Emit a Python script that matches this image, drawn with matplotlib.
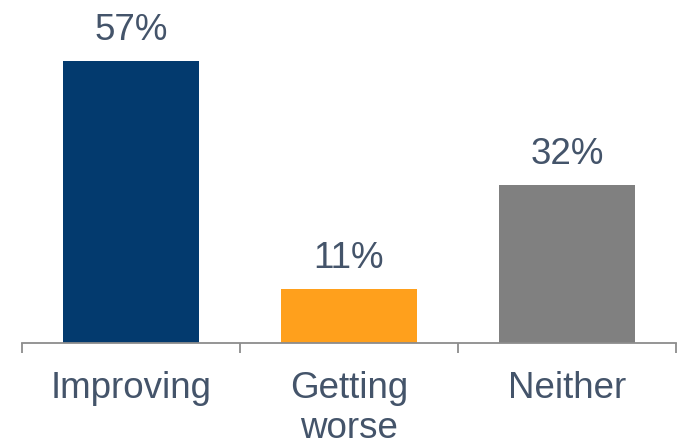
import matplotlib.pyplot as plt

categories = ['Improving', 'Getting\nworse', 'Neither']
values = [57, 11, 32]
colors = ['#033A6E', '#FFA01C', '#808080']
text_color = '#44546A'

plt.rcParams['font.family'] = ['Liberation Sans', 'DejaVu Sans']

fig = plt.figure(figsize=(6.79, 4.47), dpi=100)
ax = fig.add_axes([22 / 679, 104 / 447, 654 / 679, 343 / 447])

x = list(range(len(categories)))
bars = ax.bar(x, values, width=0.62, color=colors)

# value labels above the bars
for b, v in zip(bars, values):
    ax.annotate(f'{v}%', (b.get_x() + b.get_width() / 2, v),
                xytext=(0, 9), textcoords='offset points',
                ha='center', va='bottom', fontsize=26.5, color=text_color)

ax.set_xlim(-0.5, 2.5)
ax.set_ylim(0, 69.3)

for s in ['top', 'right', 'left']:
    ax.spines[s].set_visible(False)
ax.spines['bottom'].set_color('#8C8C8C')
ax.spines['bottom'].set_linewidth(1.3)
ax.set_yticks([])

# boundary ticks between categories, labels centred under bars
ax.set_xticks([-0.5, 0.5, 1.5, 2.5])
ax.set_xticklabels([])
ax.tick_params(axis='x', which='major', length=7, width=1.3, color='#8C8C8C')
ax.set_xticks(x, minor=True)
ax.set_xticklabels(categories, minor=True, fontsize=26.5, color=text_color,
                   linespacing=1.2)
ax.tick_params(axis='x', which='minor', length=0, pad=20)

fig.savefig('out.png', dpi=100)
